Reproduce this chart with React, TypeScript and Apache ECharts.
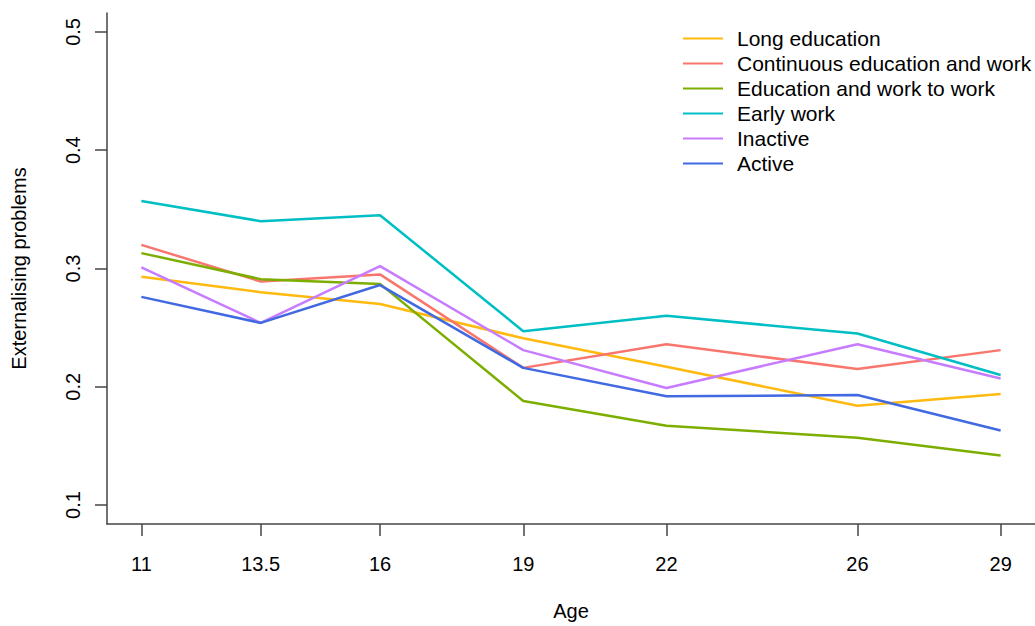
import React, { useEffect, useRef } from "react";
import * as echarts from "echarts";

const ages = [11, 13.5, 16, 19, 22, 26, 29];
const yTicks = [0.1, 0.2, 0.3, 0.4, 0.5];

const seriesNames = [
  "Long education",
  "Continuous education and work",
  "Education and work to work",
  "Early work",
  "Inactive",
  "Active",
];
const seriesColors = ["#FFB90F", "#F8766D", "#7CAE00", "#00BFC4", "#C77CFF", "#4169E1"];

const longEducation = [0.293, 0.28, 0.27, 0.241, 0.217, 0.184, 0.194];
const continuousEduWork = [0.32, 0.289, 0.295, 0.216, 0.236, 0.215, 0.231];
const eduWorkToWork = [0.313, 0.291, 0.287, 0.188, 0.167, 0.157, 0.142];
const earlyWork = [0.357, 0.34, 0.345, 0.247, 0.26, 0.245, 0.21];
const inactive = [0.301, 0.254, 0.302, 0.231, 0.199, 0.236, 0.207];
const active = [0.276, 0.254, 0.286, 0.216, 0.192, 0.193, 0.163];

const seriesValues = [longEducation, continuousEduWork, eduWorkToWork, earlyWork, inactive, active];

const FONT = "'Liberation Sans', Arial, sans-serif";
const TEXT = "#000";
const AXIS = "#444";

export default function App() {
  const ref = useRef<HTMLDivElement>(null);
  useEffect(() => {
    if (!ref.current) return;
    const chart = echarts.init(ref.current, null, { renderer: "svg" });
    chart.setOption({
      animation: false,
      backgroundColor: "#fff",
      textStyle: { fontFamily: FONT, color: TEXT },
      grid: { left: 107, top: 13, right: -7, bottom: 101, containLabel: false },
      legend: {
        orient: "vertical",
        left: 678,
        top: 23,
        itemWidth: 40,
        itemHeight: 20,
        itemGap: 4,
        icon: "path://M0,9 L40,9 L40,11 L0,11 Z",
        textStyle: { fontFamily: FONT, fontSize: 21, color: TEXT, padding: [0, 0, 0, 9] },
        data: seriesNames,
      },
      xAxis: {
        type: "value",
        min: 10.28,
        max: 29.72,
        name: "Age",
        nameLocation: "middle",
        nameGap: 77,
        nameTextStyle: { fontFamily: FONT, fontSize: 20, color: TEXT },
        axisLine: { show: true, onZero: false, lineStyle: { color: AXIS, width: 1.5 } },
        axisTick: {
          show: true,
          length: 12,
          inside: false,
          customValues: ages,
          lineStyle: { color: AXIS, width: 1.5 },
        },
        axisLabel: {
          show: true,
          customValues: ages,
          margin: 30,
          fontFamily: FONT,
          fontSize: 20,
          color: TEXT,
          formatter: (v: number) => String(v),
        },
        splitLine: { show: false },
      },
      yAxis: {
        type: "value",
        min: 0.084,
        max: 0.516,
        name: "Externalising problems",
        nameLocation: "middle",
        nameGap: 78,
        nameTextStyle: { fontFamily: FONT, fontSize: 20, color: TEXT },
        axisLine: { show: true, onZero: false, lineStyle: { color: AXIS, width: 1.5 } },
        axisTick: {
          show: true,
          length: 12,
          inside: false,
          customValues: yTicks,
          lineStyle: { color: AXIS, width: 1.5 },
        },
        axisLabel: {
          show: true,
          customValues: yTicks,
          rotate: 90,
          margin: 24,
          fontFamily: FONT,
          fontSize: 20,
          color: TEXT,
          formatter: (v: number) => v.toFixed(1),
        },
        splitLine: { show: false },
      },
      series: seriesNames.map((name, i) => ({
        name,
        type: "line",
        data: ages.map((a, j) => [a, seriesValues[i][j]]),
        symbol: "none",
        showSymbol: false,
        color: seriesColors[i],
        lineStyle: { color: seriesColors[i], width: 2.5 },
        emphasis: { disabled: true },
      })),
    });
    return () => chart.dispose();
  }, []);
  return (
    <div
      ref={ref}
      style={{ position: "absolute", left: 0, top: 0, width: 1035, height: 626 }}
    />
  );
}
